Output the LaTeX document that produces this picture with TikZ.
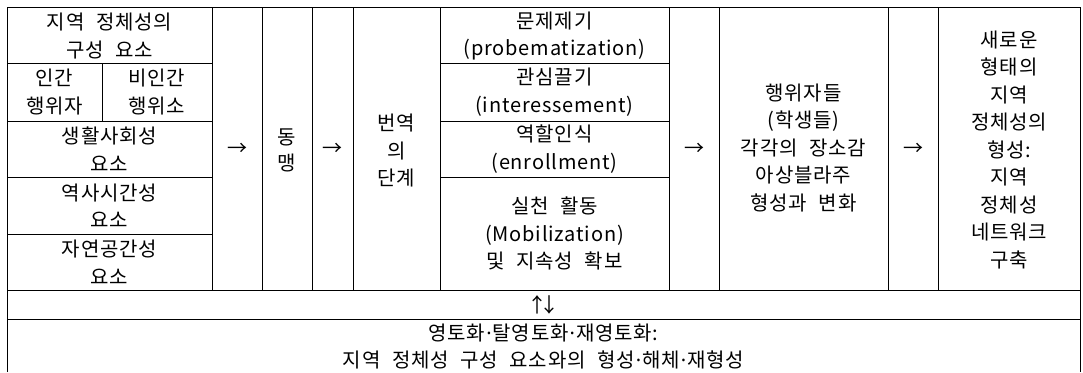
\documentclass[tikz,border=0pt]{standalone}
\usepackage{fontspec}
\setmainfont[LetterSpace=4,WordSpace=2.2]{Noto Sans CJK KR}
\newfontfamily\latfont{Noto Sans}
\newcommand\mdot{\kern1pt{\latfont ·}\kern1pt}
\begin{document}
\begin{tikzpicture}[x=1pt,y=-1pt,
  txt/.style={align=center, inner sep=0pt, font=\fontsize{20}{27.5}\selectfont},
  grid/.style={line width=1pt, black}]
\useasboundingbox (0,0) rectangle (1083,372);
% grid
\draw[grid] (7,372) -- (7,7) -- (1080,7) -- (1080,372);
\draw[grid] (7,290) -- (1080,290);
\draw[grid] (7,319) -- (1080,319);
\foreach \x in {212,262,312,353,440,669,719,888,938} \draw[grid] (\x,7) -- (\x,290);
\foreach \y in {63,121,177,234} \draw[grid] (7,\y) -- (212,\y);
\draw[grid] (102,63) -- (102,121);
\foreach \y in {63,121,177} \draw[grid] (440,\y) -- (669,\y);
% texts
\node[txt] (c1a) at (109.5,36) {지역 정체성의\\구성 요소};
\node[txt] (c1b) at (54.5,92) {인간\\행위자};
\node[txt] (c1c) at (157,92) {비인간\\행위소};
\node[txt] (c1d) at (109.5,149) {생활사회성\\요소};
\node[txt] (c1e) at (109.5,205.5) {역사시간성\\요소};
\node[txt] (c1f) at (109.5,262) {자연공간성\\요소};
\node[txt] (a1) at (237,149) {→};
\node[txt,font=\fontsize{20}{26}\selectfont] (dm) at (287,150) {동\\맹};
\node[txt] (a2) at (332.5,149) {→};
\node[txt] (bs) at (396.5,151) {번역\\의\\단계};
\node[txt] (p1) at (554.5,36) {문제제기\\(probematization)};
\node[txt] (p2) at (554.5,92) {관심끌기\\(interessement)};
\node[txt] (p3) at (554.5,149) {역할인식\\(enrollment)};
\node[txt] (p4) at (554.5,233.5) {실천 활동\\(Mobilization)\\및 지속성 확보};
\node[txt] (a3) at (694,149) {→};
\node[txt] (hw) at (803.5,148) {행위자들\\(학생들)\\각각의 장소감\\아상블라주\\형성과 변화};
\node[txt] (a4) at (913,149) {→};
\node[txt] (nf) at (1009,150) {새로운\\형태의\\지역\\정체성의\\형성:\\지역\\정체성\\네트워크\\구축};
\node[txt] (ud) at (543.5,304.5) {↑\kern-0.4em↓};
\node[txt] (bt) at (543.5,346.5) {영토화\mdot 탈영토화\mdot 재영토화:\\지역 정체성 구성 요소와의 형성\mdot 해체\mdot 재형성};
\end{tikzpicture}
\end{document}
